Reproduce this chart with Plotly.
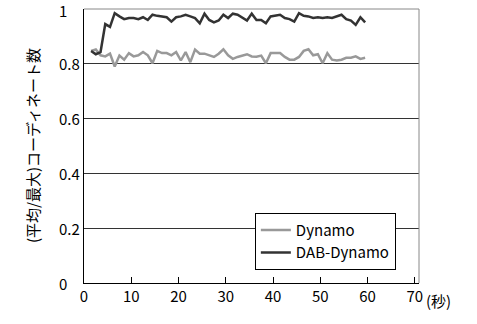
import plotly.graph_objects as go

times = [1.5, 2.5, 3.5, 4.5, 5.5, 6.5, 7.5, 8.5, 9.5, 10.5,
         11.5, 12.5, 13.5, 14.5, 15.5, 16.5, 17.5, 18.5, 19.5, 20.5,
         21.5, 22.5, 23.5, 24.5, 25.5, 26.5, 27.5, 28.5, 29.5, 30.5,
         31.5, 32.5, 33.5, 34.5, 35.5, 36.5, 37.5, 38.5, 39.5, 40.5,
         41.5, 42.5, 43.5, 44.5, 45.5, 46.5, 47.5, 48.5, 49.5, 50.5,
         51.5, 52.5, 53.5, 54.5, 55.5, 56.5, 57.5, 58.5, 59.5]

dynamo = [0.847, 0.852, 0.831, 0.827, 0.837, 0.790, 0.830, 0.815, 0.839, 0.827,
          0.831, 0.843, 0.831, 0.802, 0.847, 0.839, 0.839, 0.831, 0.843, 0.812,
          0.843, 0.806, 0.852, 0.837, 0.837, 0.831, 0.825, 0.837, 0.853, 0.831,
          0.818, 0.825, 0.831, 0.835, 0.827, 0.826, 0.830, 0.802, 0.839, 0.839,
          0.839, 0.825, 0.815, 0.815, 0.825, 0.847, 0.853, 0.831, 0.835, 0.802,
          0.839, 0.815, 0.812, 0.815, 0.822, 0.822, 0.827, 0.818, 0.822]

dab_dynamo = [0.847, 0.835, 0.843, 0.945, 0.935, 0.985, 0.973, 0.963, 0.967, 0.967,
              0.963, 0.970, 0.960, 0.979, 0.975, 0.973, 0.970, 0.954, 0.970, 0.973,
              0.979, 0.973, 0.967, 0.948, 0.983, 0.960, 0.951, 0.958, 0.979, 0.967,
              0.983, 0.979, 0.967, 0.958, 0.983, 0.960, 0.960, 0.948, 0.973, 0.975,
              0.979, 0.967, 0.963, 0.954, 0.985, 0.975, 0.973, 0.967, 0.970, 0.967,
              0.970, 0.967, 0.973, 0.979, 0.963, 0.958, 0.942, 0.970, 0.951]

x_ticks = [0, 10, 20, 30, 40, 50, 60, 70]
y_ticks = [0, 0.2, 0.4, 0.6, 0.8, 1]
y_tick_labels = ["0", "0.2", "0.4", "0.6", "0.8", "1"]

FONT = "Noto Sans CJK JP"

fig = go.Figure()
fig.add_trace(go.Scatter(x=times, y=dynamo, mode="lines", name="Dynamo",
                         line=dict(color="#999999", width=2.5)))
fig.add_trace(go.Scatter(x=times, y=dab_dynamo, mode="lines", name="DAB-Dynamo",
                         line=dict(color="#333333", width=2.5)))

annotations = []
for v, t in zip(y_ticks, y_tick_labels):
    annotations.append(dict(xref="paper", yref="y", x=0, y=v, xshift=-27,
                            yshift=-1 if v == 1 else 0,
                            xanchor="left", yanchor="middle", text=t, showarrow=False,
                            font=dict(family=FONT, size=15, color="black")))
annotations.append(dict(xref="paper", yref="paper", x=0, y=0.5, xshift=-52,
                        xanchor="center", yanchor="middle", textangle=-90,
                        text="(平均/最大)コーディネート数", showarrow=False,
                        font=dict(family=FONT, size=15, color="black")))
annotations.append(dict(xref="paper", yref="paper", x=1, y=0, xshift=5, yshift=-17,
                        xanchor="left", yanchor="middle", text="(秒)", showarrow=False,
                        font=dict(family=FONT, size=15, color="black")))

fig.update_layout(
    width=477, height=324,
    margin=dict(l=84, r=58, t=9, b=41),
    paper_bgcolor="white", plot_bgcolor="white",
    showlegend=True,
    legend=dict(x=0.51, y=0.256, xanchor="left", yanchor="top",
                bgcolor="white", bordercolor="black", borderwidth=1,
                font=dict(family=FONT, size=15, color="black"),
                tracegroupgap=0, itemwidth=30),
    annotations=annotations,
    shapes=[
        dict(type="line", xref="paper", yref="paper", x0=0, x1=1, y0=1, y1=1,
             line=dict(color="#888888", width=1)),
        dict(type="line", xref="paper", yref="paper", x0=1, x1=1, y0=0, y1=1,
             line=dict(color="#888888", width=1)),
    ],
    font=dict(family=FONT, size=15, color="black"),
)
fig.update_xaxes(range=[0, 70.9], tickvals=x_ticks, ticks="inside", ticklen=6,
                 tickcolor="black", showline=True, linecolor="black", linewidth=1,
                 showgrid=False, zeroline=False,
                 tickfont=dict(family=FONT, size=15, color="black"))
fig.update_yaxes(range=[0, 1], tickvals=y_ticks, showticklabels=False,
                 showline=True, linecolor="black", linewidth=1,
                 showgrid=True, gridcolor="#333333", gridwidth=1, zeroline=False)

fig.write_html("out.html", config={"displayModeBar": False},
               post_script="document.body.style.margin='0';document.body.style.padding='0';")
